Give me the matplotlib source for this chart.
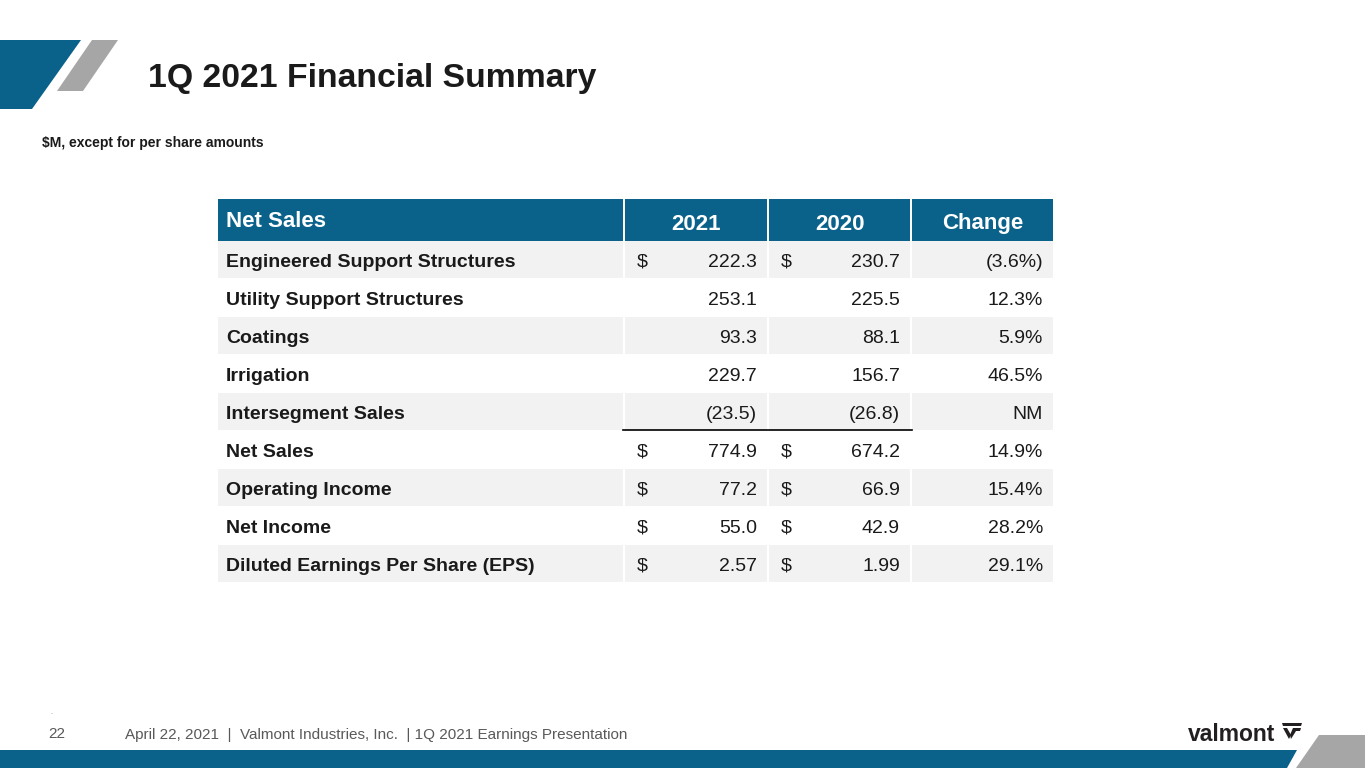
import matplotlib
matplotlib.use("Agg")
import matplotlib.pyplot as plt
from matplotlib.patches import Rectangle, Polygon

plt.rcParams['font.family'] = ['Liberation Sans', 'DejaVu Sans']

# ---------------- data ----------------
title = "1Q 2021 Financial Summary"
subtitle = "$M, except for per share amounts"
header = ["Net Sales", "2021", "2020", "Change"]
row_labels = ["Engineered Support Structures", "Utility Support Structures", "Coatings",
              "Irrigation", "Intersegment Sales", "Net Sales", "Operating Income",
              "Net Income", "Diluted Earnings Per Share (EPS)"]
vals_2021 = ["222.3", "253.1", "93.3", "229.7", "(23.5)", "774.9", "77.2", "55.0", "2.57"]
vals_2020 = ["230.7", "225.5", "88.1", "156.7", "(26.8)", "674.2", "66.9", "42.9", "1.99"]
changes = ["(3.6%)", "12.3%", "5.9%", "46.5%", "NM", "14.9%", "15.4%", "28.2%", "29.1%"]
dollar_rows = [True, False, False, False, False, True, True, True, True]
footer_page = "22"
footer_text = "April 22, 2021  |  Valmont Industries, Inc.  | 1Q 2021 Earnings Presentation"

BLUE = "#0A628A"
GRAY = "#A6A6A6"
LIGHT = "#F2F2F2"
INK = "#1A1A1A"

W, H = 1365, 768
fig = plt.figure(figsize=(W / 100, H / 100), dpi=100)
ax = fig.add_axes([0, 0, 1, 1])
ax.set_xlim(0, W)
ax.set_ylim(H, 0)
ax.axis("off")

# ---------------- decorations ----------------
ax.add_patch(Polygon([(0, 40), (81, 40), (32, 109), (0, 109)], closed=True, color=BLUE, lw=0))
ax.add_patch(Polygon([(92, 40), (118, 40), (83, 91), (57, 91)], closed=True, color=GRAY, lw=0))
ax.add_patch(Polygon([(0, 750), (1297, 750), (1287, 768), (0, 768)], closed=True, color=BLUE, lw=0))
ax.add_patch(Polygon([(1319, 735), (W, 735), (W, 768), (1296, 768)], closed=True, color=GRAY, lw=0))

ax.text(148, 75.5, title, fontsize=24.3, fontweight="bold", color=INK, va="center_baseline", ha="left")
ax.text(42, 142, subtitle, fontsize=10, fontweight="bold", color=INK, va="center_baseline", ha="left")

# ---------------- table ----------------
col_edges = [(218, 623), (625, 767), (769, 910), (912, 1053)]
hdr_top, hdr_bot = 199, 241
row_h = 38

for i, (x0, x1) in enumerate(col_edges):
    ax.add_patch(Rectangle((x0, hdr_top), x1 - x0, hdr_bot - hdr_top, color=BLUE, lw=0))
    if i == 0:
        ax.text(x0 + 8, 219, header[i], fontsize=16, fontweight="bold", color="white",
                va="center_baseline", ha="left")
    else:
        ax.text((x0 + x1) / 2, 221.5, header[i], fontsize=16, fontweight="bold", color="white",
                va="center_baseline", ha="center")

for r, label in enumerate(row_labels):
    top = hdr_bot + r * row_h
    yc = top + row_h / 2 + 0.5
    if r % 2 == 0:
        for (x0, x1) in col_edges:
            ax.add_patch(Rectangle((x0, top), x1 - x0, row_h - 1, color=LIGHT, lw=0))
    ax.text(226, yc, label, fontsize=14, fontweight="bold", color=INK, va="center_baseline", ha="left")
    for (x0, x1), v in zip(col_edges[1:3], [vals_2021[r], vals_2020[r]]):
        if dollar_rows[r]:
            ax.text(x0 + 12, yc, "$", fontsize=14, color=INK, va="center_baseline", ha="left")
        ax.text(x1 - 10, yc, v, fontsize=14, color=INK, va="center_baseline", ha="right")
    ax.text(col_edges[3][1] - 10, yc, changes[r], fontsize=14, color=INK,
            va="center_baseline", ha="right")

# total underline beneath Intersegment Sales
yl = hdr_bot + 5 * row_h - 1
ax.plot([623, 912], [yl, yl], color="black", lw=1.2)

# ---------------- footer ----------------
ax.text(50, 712, ".", fontsize=5, color="#777777", va="center", ha="left")
ax.text(48, 733, footer_page, fontsize=11, color="#595959", va="center_baseline", ha="left")
ax.text(125, 733, footer_text, fontsize=11, color="#595959", va="center_baseline", ha="left")

# logo
ax.text(1188, 732, "valmont", fontsize=16.5, fontweight="bold", color="#231F20",
        va="center_baseline", ha="left")
LOGO = "#231F20"
ax.add_patch(Polygon([(1282, 723), (1302, 723), (1301, 726), (1283, 726)], closed=True, color=LOGO, lw=0))
ax.add_patch(Polygon([(1283, 728), (1287, 728), (1291, 735), (1289, 739)], closed=True, color=LOGO, lw=0))
ax.add_patch(Polygon([(1293, 728), (1301, 728), (1300, 731), (1296, 731), (1291, 739), (1290, 735)],
                     closed=True, color=LOGO, lw=0))

fig.savefig("out.png", dpi=100)
